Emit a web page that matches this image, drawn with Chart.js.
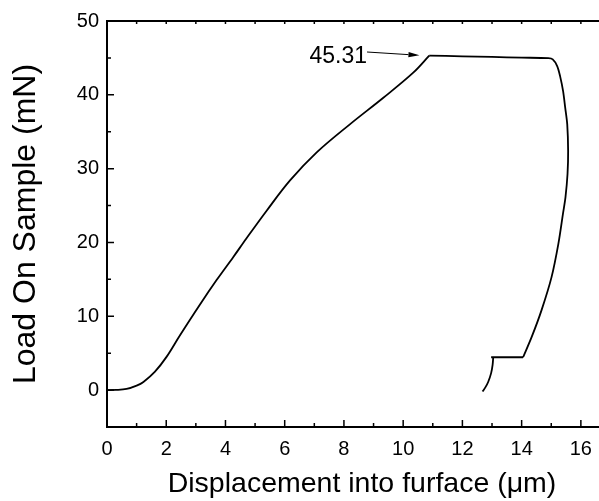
<!DOCTYPE html>
<html>
<head>
<meta charset="utf-8">
<title>Load On Sample vs Displacement</title>
<script src="https://cdn.jsdelivr.net/npm/chart.js"></script>
<style>
	body { margin: 0; background: #fff; overflow: hidden; }
	#mycanvas { display: block; }
</style>
</head>
<body>
<!-- the canvas is a bit wider than the window: the original picture is cropped on the right -->
<canvas id="mycanvas" width="617" height="501"></canvas>
<script>
/* Loading part: displacement (um) and load (mN) */
var loadX = [0, 0.3, 0.66, 1.0, 1.23, 1.62, 2.01, 2.46, 3.14, 3.70, 4.26, 4.70, 5.39, 6.18, 7.08, 8.20, 9.33, 10.34, 10.88];
var loadY = [0, 0.02, 0.15, 0.6, 1.1, 2.5, 4.5, 7.4, 11.6, 14.9, 18.0, 20.5, 24.3, 28.4, 32.2, 36.0, 39.6, 43.0, 45.31];
/* Hold at peak load, then unloading */
var unloadX = [10.88, 12.0, 13.0, 14.0, 14.9, 15.05, 15.2, 15.3, 15.4, 15.47, 15.54, 15.57, 15.55, 15.48, 15.4, 15.24, 15.01, 14.67, 14.34, 14.05];
var unloadY = [45.31, 45.22, 45.13, 45.04, 44.96, 44.8, 43.9, 42.5, 40.5, 38.3, 36.0, 32.4, 29.3, 26.1, 24.0, 19.8, 15.3, 10.8, 7.2, 4.45];
/* Step at the bottom of the unloading */
var stepX = [14.05, 12.97];
var stepY = [4.45, 4.45];
/* Tail below the step */
var tailX = [13.04, 13.02, 12.97, 12.87, 12.78, 12.68];
var tailY = [4.4, 3.4, 2.3, 1.1, 0.4, -0.2];

/* Tick labels and minor tick positions */
var xTicks = [0, 2, 4, 6, 8, 10, 12, 14, 16];
var xMinor = [1, 3, 5, 7, 9, 11, 13, 15, 17];
var yTicks = [0, 10, 20, 30, 40, 50];
var yMinor = [-5, 5, 15, 25, 35, 45];

/* Peak annotation */
var peakLabel = '45.31';
var arrowFrom = [8.78, 45.8];
var arrowTo = [10.55, 45.35];

var FONT = '"Liberation Sans", Arial, sans-serif';

/* Pair up x and y arrays */
function toPoints(xs, ys) {
	var pts = [];
	for (var i in xs) {
		pts.push({x: xs[i], y: ys[i]});
	}
	return pts;
}

function curve(xs, ys, tension) {
	return {
		data: toPoints(xs, ys),
		showLine: true,
		borderColor: '#000',
		borderWidth: 1.8,
		pointRadius: 0,
		tension: tension,
		fill: false
	};
}

/* Frame, inward ticks and the arrow label are drawn here */
var framePlugin = {
	id: 'framePlugin',
	afterDraw: function(chart) {
		var ctx = chart.ctx;
		var a = chart.chartArea;
		var sx = chart.scales.x;
		var sy = chart.scales.y;
		var i, p;
		ctx.save();
		ctx.strokeStyle = '#000';
		ctx.fillStyle = '#000';
		ctx.lineWidth = 2;
		ctx.beginPath();
		ctx.moveTo(a.right, a.top);
		ctx.lineTo(a.left, a.top);
		ctx.lineTo(a.left, a.bottom);
		ctx.lineTo(a.right, a.bottom);
		ctx.stroke();

		ctx.lineWidth = 1.5;
		ctx.beginPath();
		for (i = 0; i < xTicks.length; i++) {
			p = sx.getPixelForValue(xTicks[i]);
			ctx.moveTo(p, a.bottom); ctx.lineTo(p, a.bottom - 7);
			ctx.moveTo(p, a.top); ctx.lineTo(p, a.top + 3);
		}
		for (i = 0; i < xMinor.length; i++) {
			p = sx.getPixelForValue(xMinor[i]);
			ctx.moveTo(p, a.bottom); ctx.lineTo(p, a.bottom - 4);
			ctx.moveTo(p, a.top); ctx.lineTo(p, a.top + 3);
		}
		for (i = 0; i < yTicks.length; i++) {
			p = sy.getPixelForValue(yTicks[i]);
			ctx.moveTo(a.left, p); ctx.lineTo(a.left + 7, p);
		}
		for (i = 0; i < yMinor.length; i++) {
			p = sy.getPixelForValue(yMinor[i]);
			ctx.moveTo(a.left, p); ctx.lineTo(a.left + 4, p);
		}
		ctx.stroke();

		/* arrow pointing at the peak */
		var x0 = sx.getPixelForValue(arrowFrom[0]), y0 = sy.getPixelForValue(arrowFrom[1]);
		var x1 = sx.getPixelForValue(arrowTo[0]), y1 = sy.getPixelForValue(arrowTo[1]);
		var ang = Math.atan2(y1 - y0, x1 - x0);
		var hl = 11, hw = 2.6;
		var bx = x1 - hl * Math.cos(ang), by = y1 - hl * Math.sin(ang);
		ctx.lineWidth = 1;
		ctx.beginPath();
		ctx.moveTo(x0, y0);
		ctx.lineTo(bx, by);
		ctx.stroke();
		ctx.beginPath();
		ctx.moveTo(x1, y1);
		ctx.lineTo(bx + hw * Math.sin(ang), by - hw * Math.cos(ang));
		ctx.lineTo(bx - hw * Math.sin(ang), by + hw * Math.cos(ang));
		ctx.closePath();
		ctx.fill();

		ctx.font = '23px ' + FONT;
		ctx.textAlign = 'right';
		ctx.textBaseline = 'middle';
		ctx.fillText(peakLabel, x0, y0 + 4.5);
		ctx.restore();
	}
};

var ctx = document.getElementById('mycanvas');
var lineGraph = new Chart(ctx, {
	type: 'scatter',
	data: {
		datasets: [
			curve(loadX, loadY, 0.35),
			curve(unloadX, unloadY, 0.3),
			curve(stepX, stepY, 0),
			curve(tailX, tailY, 0.3)
		]
	},
	options: {
		responsive: false,
		animation: false,
		layout: { padding: { top: 21, right: 0, bottom: 0, left: 0 } },
		plugins: {
			legend: { display: false },
			tooltip: { enabled: false }
		},
		scales: {
			x: {
				type: 'linear',
				min: 0,
				max: 17.22,
				afterBuildTicks: function(scale) {
					scale.ticks = xTicks.map(function(v) { return {value: v}; });
				},
				afterFit: function(scale) { scale.height = 74; },
				grid: { display: false, drawTicks: false },
				border: { display: false },
				ticks: { padding: 10, color: '#000', font: { family: FONT, size: 20 }, maxRotation: 0 },
				title: {
					display: true,
					text: 'Displacement into furface (\u03bcm)',
					color: '#000',
					font: { family: FONT, size: 28.5 },
					padding: { top: 0, bottom: 0 }
				}
			},
			y: {
				type: 'linear',
				min: -5,
				max: 50,
				afterBuildTicks: function(scale) {
					scale.ticks = yTicks.map(function(v) { return {value: v}; });
				},
				afterFit: function(scale) { scale.width = 107; },
				grid: { display: false, drawTicks: false },
				border: { display: false },
				ticks: { padding: 8, color: '#000', font: { family: FONT, size: 20 } },
				title: {
					display: true,
					text: 'Load On Sample (mN)',
					color: '#000',
					font: { family: FONT, size: 32 },
					padding: { top: 7, bottom: 0 }
				}
			}
		}
	},
	plugins: [framePlugin]
});
</script>
</body>
</html>
